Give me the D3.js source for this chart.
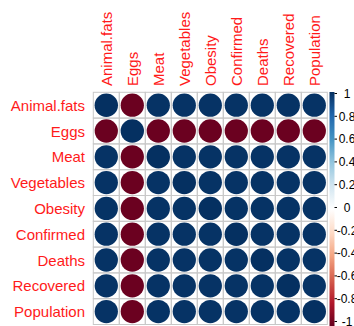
<!DOCTYPE html>
<html>
<head>
<meta charset="utf-8">
<script src="https://cdn.jsdelivr.net/npm/d3@7"></script>
<style>
  body { margin: 0; background: #fff; }
  text { font-family: "Liberation Sans", Arial, sans-serif; }
</style>
</head>
<body>
<script>
// variables of the correlation matrix
const vars = ["Animal.fats", "Eggs", "Meat", "Vegetables", "Obesity", "Confirmed", "Deaths", "Recovered", "Population"];

// correlation matrix rows (all near +/-1, Eggs negative)
const corr = [
  [ 1.00, -0.99,  0.99,  0.99,  0.99,  0.99,  0.99,  0.99,  0.99],
  [-0.99,  1.00, -0.99, -0.99, -0.99, -0.99, -0.99, -0.99, -0.99],
  [ 0.99, -0.99,  1.00,  0.99,  0.99,  0.99,  0.99,  0.99,  0.99],
  [ 0.99, -0.99,  0.99,  1.00,  0.99,  0.99,  0.99,  0.99,  0.99],
  [ 0.99, -0.99,  0.99,  0.99,  1.00,  0.99,  0.99,  0.99,  0.99],
  [ 0.99, -0.99,  0.99,  0.99,  0.99,  1.00,  0.99,  0.99,  0.99],
  [ 0.99, -0.99,  0.99,  0.99,  0.99,  0.99,  1.00,  0.99,  0.99],
  [ 0.99, -0.99,  0.99,  0.99,  0.99,  0.99,  0.99,  1.00,  0.99],
  [ 0.99, -0.99,  0.99,  0.99,  0.99,  0.99,  0.99,  0.99,  1.00]
];

const legendTicks = [1, 0.8, 0.6, 0.4, 0.2, 0, -0.2, -0.4, -0.6, -0.8, -1];

const rdbu = ["#67001F", "#B2182B", "#D6604D", "#F4A582", "#FDDBC7", "#FFFFFF",
              "#D1E5F0", "#92C5DE", "#4393C3", "#2166AC", "#053061"];

const w = 354, h = 326;
const svg = d3.select("body").append("svg").attr("width", w).attr("height", h);

const x = d3.scaleBand().domain(vars).range([93.3, 327.3]);
const y = d3.scaleBand().domain(vars).range([92.3, 324.5]);
const color = d3.scaleLinear().domain(d3.range(11).map(i => -1 + i * 0.2)).range(rdbu);

const cells = [];
corr.forEach((row, i) => row.forEach((v, j) => cells.push({ r: vars[i], c: vars[j], v })));

// grid
svg.append("g").selectAll("rect")
  .data(cells)
  .enter()
  .append("rect")
  .attr("x", d => x(d.c))
  .attr("y", d => y(d.r))
  .attr("width", x.bandwidth())
  .attr("height", y.bandwidth())
  .attr("fill", "none")
  .attr("stroke", "#c8c8c8")
  .attr("stroke-width", 1);

// circles
svg.append("g").selectAll("circle")
  .data(cells)
  .enter()
  .append("circle")
  .attr("cx", d => x(d.c) + x.bandwidth() / 2)
  .attr("cy", d => y(d.r) + y.bandwidth() / 2)
  .attr("r", d => Math.sqrt(Math.abs(d.v)) * 0.45 * x.bandwidth())
  .attr("fill", d => color(d.v));

// row labels
svg.append("g").selectAll("text")
  .data(vars)
  .enter()
  .append("text")
  .attr("x", 85)
  .attr("y", d => y(d) + y.bandwidth() / 2 + 5.5)
  .attr("text-anchor", "end")
  .attr("font-size", 15)
  .attr("fill", "#ff1a1a")
  .text(d => d);

// column labels
svg.append("g").selectAll("text")
  .data(vars)
  .enter()
  .append("text")
  .attr("transform", d => `translate(${x(d) + x.bandwidth() / 2 + 5.5},86) rotate(-90)`)
  .attr("font-size", 15)
  .attr("fill", "#ff1a1a")
  .text(d => d);

// colour legend
const ly = d3.scaleLinear().domain([1, -1]).range([93.5, 321.5]);
const grad = svg.append("defs").append("linearGradient")
  .attr("id", "cl").attr("x1", 0).attr("x2", 0).attr("y1", 0).attr("y2", 1);
rdbu.slice().reverse().forEach((c, i) => {
  grad.append("stop").attr("offset", i / 10).attr("stop-color", c);
});
svg.append("rect")
  .attr("x", 329.5)
  .attr("y", ly(1) - 1.5)
  .attr("width", 5)
  .attr("height", ly(-1) - ly(1) + 6)
  .attr("fill", "url(#cl)");

const lg = svg.append("g");
lg.selectAll("line")
  .data(legendTicks)
  .enter()
  .append("line")
  .attr("x1", 334.5).attr("x2", 337)
  .attr("y1", d => ly(d)).attr("y2", d => ly(d))
  .attr("stroke", "#000")
  .attr("stroke-width", 1);
lg.selectAll("text")
  .data(legendTicks)
  .enter()
  .append("text")
  .attr("x", 347)
  .attr("y", d => ly(d) + 4.3)
  .attr("text-anchor", "middle")
  .attr("font-size", 12)
  .attr("fill", "#000")
  .text(d => d3.format("")(d).replace("−", "-"));
</script>
</body>
</html>
